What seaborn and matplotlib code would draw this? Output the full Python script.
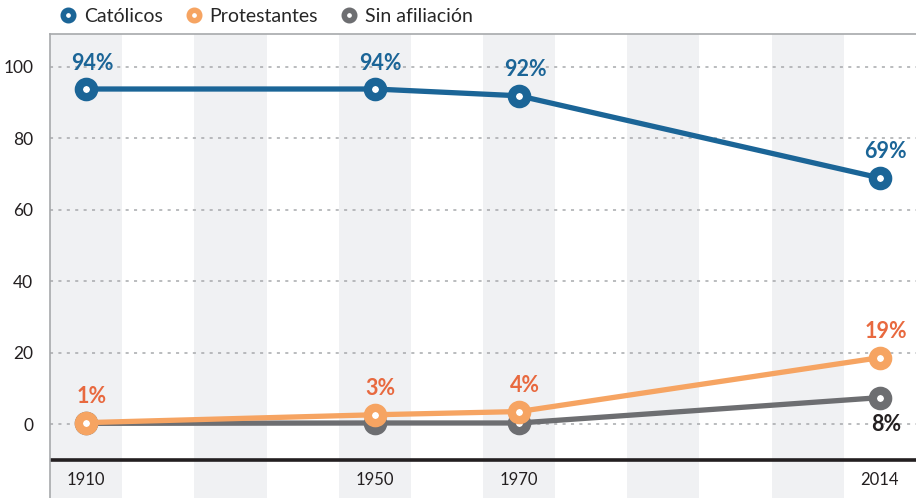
import pandas as pd
import matplotlib.pyplot as plt
from matplotlib.lines import Line2D
import seaborn as sns

# Periods along the x axis (one band each); only some are labelled
periodos = ['1910', '1920', '1930', '1940', '1950', '1960', '1970',
            '1980', '1990', '2000', '2010', '2014']
anios = ['1910', '1950', '1970', '2014']

catolicos = [93.8, 93.8, 91.9, 68.9]
protestantes = [0.4, 2.6, 3.5, 18.6]
sin_afiliacion = [0.2, 0.3, 0.3, 7.4]

etiq_catolicos = ['94%', '94%', '92%', '69%']
etiq_protestantes = ['1%', '3%', '4%', '19%']
etiq_sin = ['', '', '', '8%']

series = ['Católicos', 'Protestantes', 'Sin afiliación']
colores = {'Católicos': '#1b6597', 'Protestantes': '#f6a462', 'Sin afiliación': '#6d6e71'}
color_etiq = {'Católicos': '#1b6597', 'Protestantes': '#e8693f', 'Sin afiliación': '#231f20'}

df = pd.DataFrame({
    'anio': anios * 3,
    'serie': [s for s in series for _ in anios],
    'valor': catolicos + protestantes + sin_afiliacion,
    'etiqueta': etiq_catolicos + etiq_protestantes + etiq_sin,
})
df['pos'] = df['anio'].map(periodos.index)

sns.set_theme(style='white')
plt.rcParams['font.family'] = ['Lato', 'DejaVu Sans']

fig = plt.figure(figsize=(9.16, 4.98), dpi=100)
ax = fig.add_axes([50 / 916, 0, 1 - 50 / 916, 1 - 34 / 498])

# Alternating background bands
for i in range(len(periodos)):
    if i % 2 == 0:
        ax.axvspan(i - 0.5, i + 0.5, color='#f0f1f3', zorder=0, lw=0)

for y in range(0, 101, 20):
    ax.axhline(y, color='#a7a9ac', lw=1.1, ls=(0, (2, 3.5)), zorder=1)
ax.axhline(-10, color='#231f20', lw=2.6, zorder=2)

for serie in ['Católicos', 'Sin afiliación', 'Protestantes']:
    sub = df[df['serie'] == serie]
    c = colores[serie]
    sns.lineplot(data=sub, x='pos', y='valor', ax=ax, color=c, lw=3.8,
                 marker='o', markersize=11, markerfacecolor='white',
                 markeredgecolor=c, markeredgewidth=6, zorder=3)
    for _, r in sub.iterrows():
        if not r['etiqueta']:
            continue
        dy = -27 if serie == 'Sin afiliación' else 26
        ax.annotate(r['etiqueta'], (r['pos'], r['valor']), xytext=(6, dy),
                    textcoords='offset pixels', ha='center', va='center',
                    fontsize=15.5, fontweight='bold', color=color_etiq[serie],
                    zorder=4)

for a in anios:
    ax.text(periodos.index(a), -15.8, a, ha='center', va='center',
            fontsize=12, color='#231f20')

ax.set_xlim(-0.5, len(periodos) - 0.5)
ax.set_ylim(-20.7, 109.2)
ax.set_xticks([])
ax.set_yticks(range(0, 101, 20))
ax.tick_params(axis='y', length=0, pad=12, labelsize=12.5, labelcolor='#231f20')
ax.set_xlabel('')
ax.set_ylabel('')
for side in ['left', 'top']:
    ax.spines[side].set_color('#a7a9ac')
    ax.spines[side].set_linewidth(1.2)
ax.spines['right'].set_visible(False)
ax.spines['bottom'].set_visible(False)

handles = [Line2D([], [], lw=0, marker='o', markersize=7.5, markerfacecolor='white',
                  markeredgecolor=colores[s], markeredgewidth=4) for s in series]
fig.legend(handles, series, loc='upper left', bbox_to_anchor=(0.045, 1.02),
           ncol=3, frameon=False, fontsize=14, handletextpad=0.3,
           columnspacing=1.1, handlelength=1.0)

fig.savefig('out.png', dpi=100)
